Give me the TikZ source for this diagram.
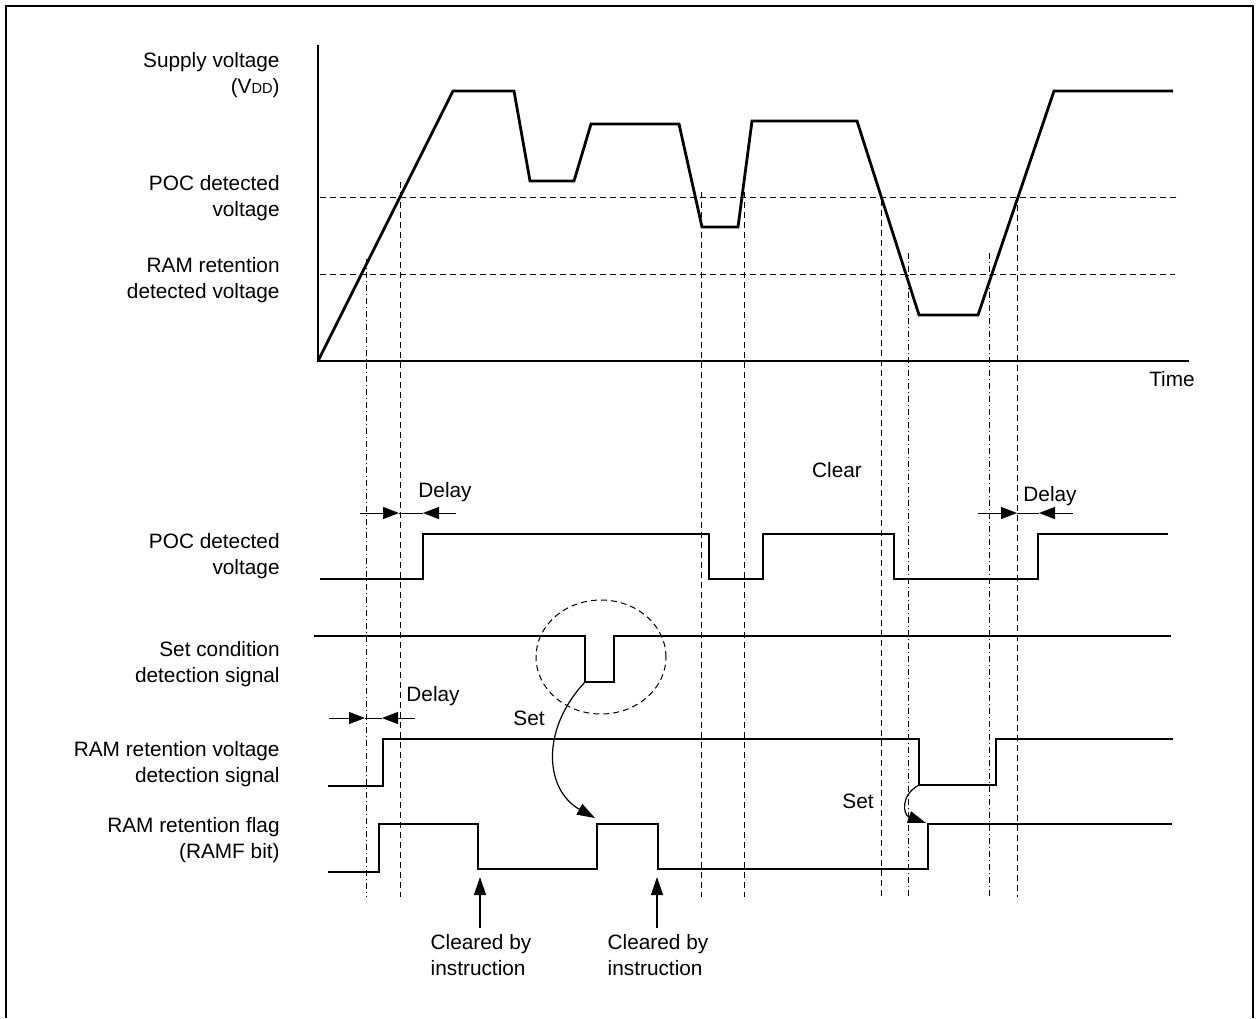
\documentclass[tikz,border=0pt]{standalone}
\usepackage{fontspec}
\setmainfont{Liberation Sans}
\usepackage{tikz}
\usetikzlibrary{arrows.meta}
\tikzset{
  sig/.style={line width=1.4pt, line join=miter},
  medsig/.style={line width=1.1pt, line join=miter},
  thinsig/.style={line width=0.7pt, line join=miter},
  guide/.style={line width=0.5pt, dash pattern=on 3pt off 2pt},
  guidedot/.style={line width=0.5pt, dash pattern=on 3pt off 1.5pt on 0.5pt off 1.5pt},
  lbl/.style={font=\fontsize{10.4}{13}\selectfont, inner sep=1pt},
  sidelbl/.style={lbl, align=right, anchor=east},
  arr/.style={-{Triangle[length=9pt,width=6pt]}, line width=0.6pt},
  dim/.style={-{Triangle[length=8pt,width=6pt]}, line width=0.5pt}
}

\begin{document}
\begin{tikzpicture}[x=0.5pt, y=-0.5pt]
\useasboundingbox (0,0) rectangle (1256,1018);
\draw[line width=1pt] (6,1018) -- (6,6) -- (1253,6) -- (1253,1018);

% signal names
\node[sidelbl] (vddlbl) at (282,75) {Supply voltage\\(V{\fontsize{7.3}{8}\selectfont DD})};
\node[sidelbl] (poclbl) at (282,198) {POC detected\\voltage};
\node[sidelbl] (ramlbl) at (282,280) {RAM retention\\detected voltage};
\node[sidelbl] (pocsiglbl) at (282,556) {POC detected\\voltage};
\node[sidelbl] (setlbl) at (282,664) {Set condition\\detection signal};
\node[sidelbl] (ramsiglbl) at (282,764) {RAM retention voltage\\detection signal};
\node[sidelbl] (flaglbl) at (282,840) {RAM retention flag\\(RAMF bit)};

% axes and levels
\draw[sig] (318,45) -- (318,361) -- (1189,361);
\node[lbl] (time) at (1172,379) {Time};
\draw[guide] (320,197) -- (1180,197);
\draw[guide] (320,274) -- (1175,274);

% supply voltage
\draw[sig] (318,361) -- (453,91) -- (514,91) -- (530,181) -- (574,181)
  -- (591,124) -- (679,124) -- (702,227) -- (738,227) -- (752,121)
  -- (857,121) -- (919,315) -- (978,315) -- (1054,91) -- (1173,91);

% vertical guides
\draw[guidedot] (366,259) -- (366,897);
\draw[guide] (400,182) -- (400,897);
\draw[guide] (701,192) -- (701,897);
\draw[guide] (744,192) -- (744,897);
\draw[guide] (881,200) -- (881,897);
\draw[guidedot] (908,253) -- (908,897);
\draw[guidedot] (989,253) -- (989,897);
\draw[guide] (1017,205) -- (1017,897);

% timing signals
\draw[sig] (320,579) -- (423,579) -- (423,534) -- (709,534) -- (709,579)
  -- (763,579) -- (763,534) -- (894,534) -- (894,579) -- (1038,579)
  -- (1038,534) -- (1168,534);
\draw[thinsig] (314,636) -- (585,636) -- (585,682) -- (614,682) -- (614,636)
  -- (1171,636);
\draw[medsig] (328,786) -- (383,786) -- (383,739) -- (919,739) -- (919,785)
  -- (996,785) -- (996,739) -- (1173,739);
\draw[sig] (328,872) -- (379,872) -- (379,824) -- (478,824) -- (478,869)
  -- (597,869) -- (597,824) -- (658,824) -- (658,869) -- (928,869)
  -- (928,824) -- (1172,824);

\draw[guide] (601,657) ellipse [x radius=32.5pt, y radius=28.5pt];

% delays
\node[lbl] (delay1) at (445,492) {Delay};
\coordinate (d1a) at (360,513);
\coordinate (d1b) at (399,513);
\coordinate (d1c) at (423,513);
\coordinate (d1d) at (456,513);
\draw[dim] (d1a) -- (d1b);
\draw[line width=0.5pt] (d1b) -- (d1c);
\draw[dim] (d1d) -- (d1c);

\node[lbl] (delay2) at (433,696) {Delay};
\coordinate (d2a) at (329,718);
\coordinate (d2b) at (365,718);
\coordinate (d2c) at (382,718);
\coordinate (d2d) at (415,718);
\draw[dim] (d2a) -- (d2b);
\draw[line width=0.5pt] (d2b) -- (d2c);
\draw[dim] (d2d) -- (d2c);

\node[lbl] (delay3) at (1050,496) {Delay};
\coordinate (d3a) at (978,513);
\coordinate (d3b) at (1017,513);
\coordinate (d3c) at (1039,513);
\coordinate (d3d) at (1073,513);
\draw[dim] (d3a) -- (d3b);
\draw[line width=0.5pt] (d3b) -- (d3c);
\draw[dim] (d3d) -- (d3c);

% set / clear
\node[lbl] (clear) at (837,470) {Clear};
\node[lbl] (set1) at (529,718) {Set};
\node[lbl] (set2) at (858,801) {Set};
\coordinate (s1a) at (585,682);
\coordinate (s1b) at (595,818);
\draw[arr] (s1a) .. controls (540,730) and (545,790) .. (s1b);
\coordinate (s2a) at (919,785);
\coordinate (s2b) at (926,823);
\draw[arr] (s2a) .. controls (900,795) and (903,815) .. (s2b);

% cleared by instruction
\node[lbl, align=left, inner sep=3pt] (clr1) at (481,955) {Cleared by\\instruction};
\node[lbl, align=left, inner sep=3pt] (clr2) at (658,955) {Cleared by\\instruction};
\coordinate (c1) at (480,877);
\coordinate (c2) at (657,877);
\draw[arr] (clr1.north -| c1) -- (c1);
\draw[arr] (clr2.north -| c2) -- (c2);
\end{tikzpicture}
\end{document}
